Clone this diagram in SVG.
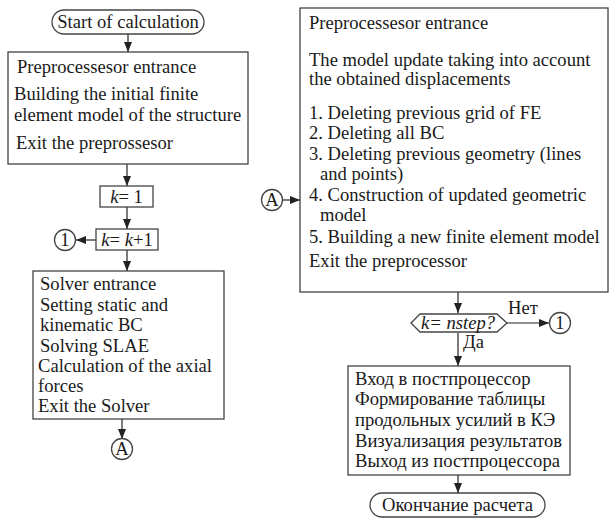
<svg xmlns="http://www.w3.org/2000/svg" width="610" height="519" viewBox="0 0 610 519" font-family="'Liberation Serif', 'DejaVu Serif', serif">
<defs>
<style>
text{font-family:'Liberation Serif','DejaVu Serif',serif;font-size:18.6px;fill:#1a1a1a}
.b{fill:#fff;stroke:#444;stroke-width:1.3}
.c{fill:none;stroke:#222;stroke-width:1.2}
.i{font-style:italic}
</style>
<marker id="ar" viewBox="0 0 10 8" refX="10" refY="4" markerWidth="10" markerHeight="8" markerUnits="userSpaceOnUse" orient="auto">
<path d="M0,0 L10,4 L0,8 Z" fill="#222"/>
</marker>
</defs>
<rect width="610" height="519" fill="#fff"/>
<g id="connectors">
<line class="c" x1="128" y1="34" x2="128" y2="52" marker-end="url(#ar)"/>
<line class="c" x1="127" y1="164" x2="127" y2="186" marker-end="url(#ar)"/>
<line class="c" x1="127" y1="207" x2="127" y2="229" marker-end="url(#ar)"/>
<line class="c" x1="96" y1="240" x2="76" y2="240" marker-end="url(#ar)"/>
<line class="c" x1="127" y1="250" x2="127" y2="271" marker-end="url(#ar)"/>
<line class="c" x1="122" y1="419" x2="122" y2="439" marker-end="url(#ar)"/>
<line class="c" x1="282" y1="200" x2="300" y2="200" marker-end="url(#ar)"/>
<line class="c" x1="458" y1="292" x2="458" y2="313" marker-end="url(#ar)"/>
<line class="c" x1="507" y1="323" x2="549" y2="323" marker-end="url(#ar)"/>
<line class="c" x1="458" y1="333" x2="458" y2="366" marker-end="url(#ar)"/>
<line class="c" x1="458" y1="475" x2="458" y2="493" marker-end="url(#ar)"/>
<text x="508" y="314">Нет</text>
<text x="463" y="348">Да</text>
</g>
<g id="start">
<rect class="b" x="52" y="10" width="152" height="24" rx="12"/>
<text x="128" y="28" text-anchor="middle">Start of calculation</text>
</g>
<g id="pre1">
<rect class="b" x="8" y="52" width="240" height="112"/>
<text x="17" y="73">Preprocessesor entrance</text>
<text x="14" y="100">Building the initial finite</text>
<text x="14" y="121">element model of the structure</text>
<text x="16" y="149">Exit the preprossesor</text>
</g>
<g id="k1">
<rect class="b" x="100" y="186" width="53" height="21"/>
<text x="126.5" y="203" text-anchor="middle"><tspan class="i">k</tspan>= 1</text>
</g>
<g id="kk1">
<rect class="b" x="96" y="229" width="62" height="21"/>
<text x="127" y="246" text-anchor="middle"><tspan class="i">k</tspan>= <tspan class="i">k</tspan>+1</text>
</g>
<g id="c1left">
<circle class="b" cx="65" cy="240" r="10.5"/>
<text x="65" y="246" text-anchor="middle">1</text>
</g>
<g id="solver">
<rect class="b" x="33" y="271" width="191" height="148"/>
<text x="40" y="290">Solver entrance</text>
<text x="40" y="311">Setting static and</text>
<text x="40" y="331">kinematic BC</text>
<text x="40" y="352">Solving SLAE</text>
<text x="38" y="372">Calculation of the axial</text>
<text x="38" y="392">forces</text>
<text x="38" y="412">Exit the Solver</text>
</g>
<g id="aOut">
<circle class="b" cx="122" cy="449" r="10.5"/>
<text x="122" y="455" text-anchor="middle">A</text>
</g>
<g id="aIn">
<circle class="b" cx="272" cy="200" r="10.5"/>
<text x="272" y="206" text-anchor="middle">A</text>
</g>
<g id="pre2">
<rect class="b" x="300" y="8" width="308" height="284"/>
<text x="309" y="29">Preprocessesor entrance</text>
<text x="309" y="66">The model update taking into account</text>
<text x="309" y="85">the obtained displacements</text>
<text x="309" y="119">1. Deleting previous grid of FE</text>
<text x="309" y="139">2. Deleting all BC</text>
<text x="309" y="160">3. Deleting previous geometry (lines</text>
<text x="320" y="180">and points)</text>
<text x="309" y="201">4. Construction of updated geometric</text>
<text x="320" y="221">model</text>
<text x="309" y="243">5. Building a new finite element model</text>
<text x="309" y="267">Exit the preprocessor</text>
</g>
<g id="decision">
<polygon class="b" points="411,323 420,314 497,314 507,323 497,332 420,332"/>
<text x="458" y="329" text-anchor="middle" class="i">k= nstep?</text>
</g>
<g id="c1right">
<circle class="b" cx="560" cy="323" r="10.5"/>
<text x="560" y="329" text-anchor="middle">1</text>
</g>
<g id="post">
<rect class="b" x="348" y="366" width="222" height="109"/>
<text x="355" y="385">Вход в постпроцессор</text>
<text x="355" y="405">Формирование таблицы</text>
<text x="355" y="426">продольных усилий в КЭ</text>
<text x="355" y="447">Визуализация результатов</text>
<text x="355" y="467">Выход из постпроцессора</text>
</g>
<g id="end">
<rect class="b" x="370" y="493" width="175" height="24" rx="12"/>
<text x="457.5" y="511" text-anchor="middle">Окончание расчета</text>
</g>
</svg>
